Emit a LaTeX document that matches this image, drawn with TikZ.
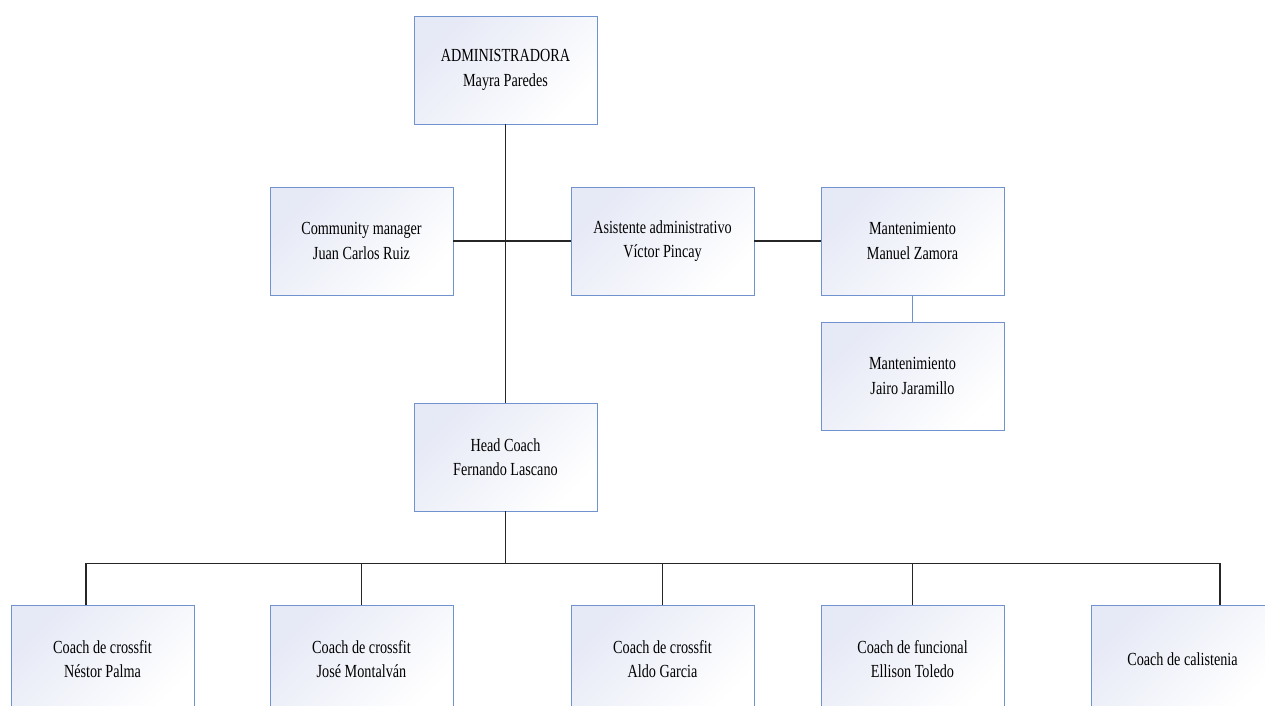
\documentclass[tikz,border=0pt]{standalone}
\usepackage{fontspec}
\setmainfont[FakeStretch=0.77]{Liberation Serif}
\definecolor{boxblue}{RGB}{112,146,206}
\definecolor{boxfill}{RGB}{230,233,246}
\begin{document}
\begin{tikzpicture}[x=0.02cm,y=-0.02cm,
    puesto/.style={draw=boxblue,line width=0.55pt,top color=boxfill,bottom color=white,
      shading angle=45,minimum width=3.66cm,minimum height=2.16cm,inner sep=0pt,
      align=center,font=\fontsize{10.5}{14}\selectfont},
    linea/.style={draw=black!85,line width=0.6pt}]
  \useasboundingbox[fill=white] (0,0) rectangle (1265,706);
  \clip (0,0) rectangle (1265,706);
  \node[puesto] (admin) at (505.5,70) {ADMINISTRADORA\\Mayra Paredes};
  \node[puesto] (comm) at (361.5,241) {Community manager\\Juan Carlos Ruiz};
  \node[puesto] (asist) at (662.5,241) {Asistente administrativo\\Víctor Pincay};
  \node[puesto] (mant1) at (912.5,241) {Mantenimiento\\Manuel Zamora};
  \node[puesto] (mant2) at (912.5,376) {Mantenimiento\\Jairo Jaramillo};
  \node[puesto] (head) at (505.5,457) {Head Coach\\Fernando Lascano};
  \foreach \n/\x/\txt in {1/102.5/{Coach de crossfit\\Néstor Palma},
      2/361.5/{Coach de crossfit\\José Montalván},
      3/662.5/{Coach de crossfit\\Aldo Garcia},
      4/912.5/{Coach de funcional\\Ellison Toledo},
      5/1182.5/{Coach de calistenia}}
    \node[puesto] (c\n) at (\x,659) {\txt};
  \draw[linea] (admin.south) -- (head.north);
  \draw[linea] (comm.east) -- (asist.west);
  \draw[linea] (asist.east) -- (mant1.west);
  \draw[draw=boxblue,line width=0.6pt] (mant1.south) -- (mant2.north);
  \draw[linea] (head.south) -- ++(0,52) coordinate (bus);
  \draw[linea] (c1.north -| 86,0) |- (bus) -| (c5.north -| 1220,0);
  \foreach \n in {2,3,4}
    \draw[linea] (c\n.north) -- (c\n.north |- bus);
\end{tikzpicture}
\end{document}
